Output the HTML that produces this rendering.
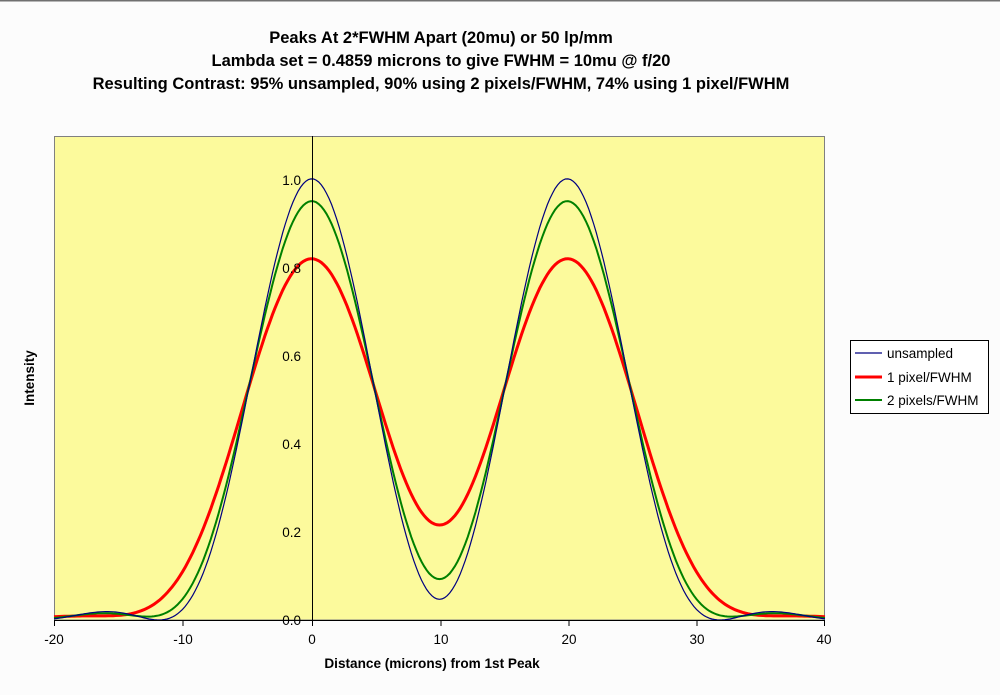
<!DOCTYPE html>
<html><head><meta charset="utf-8"><style>
body{margin:0;background:#fcfcfc;}
svg{display:block;font-family:"Liberation Sans",Arial,sans-serif;}
</style></head><body>
<svg id="s" width="1000" height="695" xmlns="http://www.w3.org/2000/svg">
<rect x="0" y="0" width="1000" height="695" fill="#fcfcfc"/>
<line x1="0" y1="0.5" x2="1000" y2="0.5" stroke="#707070" stroke-width="2"/>
<g font-weight="bold" font-size="16.5" text-anchor="middle" fill="#000">
<text x="441" y="43">Peaks At 2*FWHM Apart (20mu) or 50 lp/mm</text>
<text x="441" y="66">Lambda set = 0.4859 microns to give FWHM = 10mu @ f/20</text>
<text x="441" y="89">Resulting Contrast: 95% unsampled, 90% using 2 pixels/FWHM, 74% using 1 pixel/FWHM</text>
</g>
<rect x="54.5" y="136.5" width="770" height="483.5" fill="#fcfa9c" stroke="#808080" stroke-width="1"/>
<g id="curves"></g>
<line x1="312.5" y1="136" x2="312.5" y2="626" stroke="#000"/>
<line x1="54" y1="620.5" x2="825" y2="620.5" stroke="#000"/>
<g stroke="#000">
<line x1="54.5" y1="620" x2="54.5" y2="626"/><line x1="183" y1="620" x2="183" y2="626"/>
<line x1="441" y1="620" x2="441" y2="626"/><line x1="569" y1="620" x2="569" y2="626"/>
<line x1="697" y1="620" x2="697" y2="626"/><line x1="824.5" y1="620" x2="824.5" y2="626"/>
</g>
<g font-size="13.5" fill="#000" text-anchor="middle">
<text x="54" y="644">-20</text><text x="183" y="644">-10</text><text x="312" y="644">0</text>
<text x="441" y="644">10</text><text x="569" y="644">20</text><text x="697" y="644">30</text><text x="824" y="644">40</text>
</g>
<g font-size="13.5" fill="#000" text-anchor="end">
<text x="301" y="625">0.0</text><text x="301" y="537">0.2</text><text x="301" y="449">0.4</text>
<text x="301" y="361">0.6</text><text x="301" y="273">0.8</text><text x="301" y="185">1.0</text>
</g>
<text x="432" y="668" font-size="13.6" font-weight="bold" text-anchor="middle">Distance (microns) from 1st Peak</text>
<text transform="translate(34,378) rotate(-90)" font-size="13.5" font-weight="bold" text-anchor="middle">Intensity</text>
<rect x="850.5" y="340.5" width="138" height="73" fill="#fff" stroke="#000"/>
<line x1="855" y1="353" x2="882" y2="353" stroke="#000080" stroke-width="1.3"/>
<line x1="855" y1="377" x2="882" y2="377" stroke="#ff0000" stroke-width="3"/>
<line x1="855" y1="400" x2="882" y2="400" stroke="#008000" stroke-width="2"/>
<g font-size="13.5" fill="#000">
<text x="887" y="358">unsampled</text><text x="887" y="382">1 pixel/FWHM</text><text x="887" y="405">2 pixels/FWHM</text>
</g>
</svg>
<script>
function J1(x){var n=200,s=0;for(var i=0;i<n;i++){var t=(i+0.5)*Math.PI/n;s+=Math.cos(t-x*Math.sin(t));}return s/n;}
function airy(x){var v=1.6163*x/5;if(Math.abs(v)<1e-6)return 1;var a=2*J1(v)/v;return a*a;}
function I(x){return airy(x)+airy(x-20);}
function blur(x,w){var n=40,s=0;for(var i=0;i<n;i++){s+=I(x-w/2+(i+0.5)*w/n);}return s/n;}
function px(x){return 54+(x+20)*12.85;}function py(y){return 620-y*440;}
function path(f,col,sw){var d="";for(var x=-20;x<=40.001;x+=0.2){d+=(d?"L":"M")+px(x).toFixed(1)+","+py(f(x)).toFixed(1);}
var p=document.createElementNS("http://www.w3.org/2000/svg","path");p.setAttribute("d",d);p.setAttribute("fill","none");p.setAttribute("stroke",col);p.setAttribute("stroke-width",sw);document.getElementById("curves").appendChild(p);}
path(function(x){return blur(x,10);},"#ff0000",3);
path(function(x){return blur(x,5);},"#008000",2);
path(I,"#000080",1.2);
</script>
</body></html>
